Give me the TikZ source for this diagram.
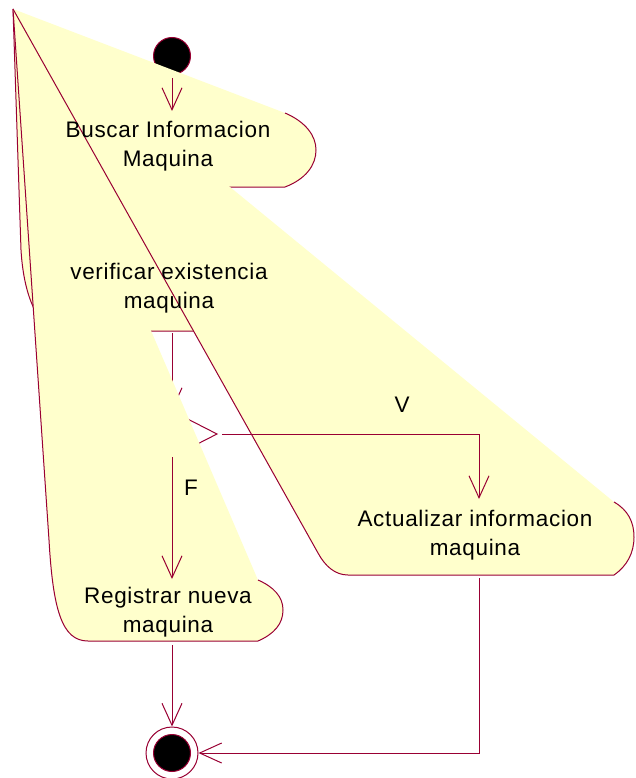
\documentclass[tikz,border=0pt]{standalone}
\usepackage{fontspec}
\setmainfont{Liberation Sans}[LetterSpace=3]
\usepackage{xcolor}
\usetikzlibrary{arrows.meta, positioning, calc}
\definecolor{rosefill}{RGB}{255,255,204}
\definecolor{roseline}{RGB}{153,0,51}
\tikzset{
  linea/.style={draw=roseline, line width=1pt},
  flecha/.style={draw=roseline, line width=1pt, -{Straight Barb[length=22pt,width=20pt]}},
  relleno/.style={fill=rosefill},
  texto/.style={font=\fontsize{22.5}{29.5}\selectfont, align=center, inner sep=0pt},
  inicio/.style={circle, fill=black, draw=roseline, line width=1pt, minimum size=37pt, inner sep=0pt},
  finext/.style={circle, fill=white, draw=roseline, line width=1pt, minimum size=52pt, inner sep=0pt}
}

\begin{document}
\begin{tikzpicture}[x=1pt, y=-1pt]
  \useasboundingbox (0,0) rectangle (635,778);
  \coordinate (vert) at (13,9);
  \coordinate (busN) at (172,111);
  \coordinate (verS) at (172,333);
  \coordinate (decN) at (172,411);
  \coordinate (decE) at (217,434);
  \coordinate (decS) at (172,457);
  \coordinate (decW) at (127,434);
  \coordinate (regN) at (172,579);
  \coordinate (regS) at (172,645);
  \coordinate (actN) at (479,499);
  \coordinate (actS) at (479,578);

  \node[inicio] (ini) at (172,56) {};

  % Buscar Informacion Maquina
  \fill[relleno] (vert) -- (285,113) .. controls (306,122) and (316,136) .. (316,150)
    .. controls (316,165) and (306,179) .. (285,187) -- (60,187) -- cycle;
  \draw[linea] (285,113) .. controls (306,122) and (316,136) .. (316,150)
    .. controls (316,165) and (306,179) .. (285,187) -- (60,187);

  % verificar existencia maquina
  \fill[relleno] (vert) -- (270,250) .. controls (287,258) and (296,272) .. (296,290)
    .. controls (296,308) and (287,323) .. (270,331) -- (62,331)
    .. controls (40,331) and (24,300) .. (21,250) -- cycle;
  \draw[linea] (vert) -- (21,250) .. controls (24,300) and (40,331) .. (62,331) -- (270,331)
    .. controls (287,323) and (296,308) .. (296,290) .. controls (296,272) and (287,258) .. (270,250);

  \draw[flecha, shorten <=3pt] (ini) -- (busN);
  \draw[flecha] (verS) -- (decN);
  \draw[linea] (decN) -- (decE) -- (decS) -- (decW) -- cycle;

  % Registrar nueva maquina
  \fill[relleno] (vert) -- (258,580) .. controls (274,587) and (283,597) .. (283,610)
    .. controls (283,624) and (274,634) .. (258,641) -- (88,641)
    .. controls (62,641) and (53,610) .. (49,540) -- cycle;
  \draw[linea] (vert) -- (49,540) .. controls (53,610) and (62,641) .. (88,641) -- (258,641)
    .. controls (274,634) and (283,624) .. (283,610) .. controls (283,597) and (274,587) .. (258,580);

  % Actualizar informacion maquina
  \fill[relleno] (vert) -- (614,502) .. controls (628,510) and (634,522) .. (634,537)
    .. controls (634,553) and (627,566) .. (614,575) -- (348,575)
    .. controls (335,575) and (325,566) .. (318,553) -- cycle;
  \draw[linea] (vert) -- (318,553) .. controls (325,566) and (335,575) .. (348,575) -- (614,575)
    .. controls (627,566) and (634,553) .. (634,537) .. controls (634,522) and (628,510) .. (614,502);

  \node[finext] (fin) at (172,753) {};
  \node[inicio] (finc) at (fin) {};

  \draw[flecha] (decS) -- (regN);
  \draw[flecha, shorten <=5pt] (decE) -| (actN);
  \draw[flecha] (regS) -- (fin);
  \draw[flecha] (actS) |- (fin);

  \node[texto] (buscar) at (168,146) {Buscar Informacion\\Maquina};
  \node[texto] (verificar) at (169,288) {verificar existencia\\maquina};
  \node[texto] (registrar) at (168,612) {Registrar nueva\\maquina};
  \node[texto] (actualizar) at (475,535) {Actualizar informacion\\maquina};
  \node[texto] (lblV) at (402,405) {V};
  \node[texto] (lblF) at (191,488) {F};
\end{tikzpicture}
\end{document}
